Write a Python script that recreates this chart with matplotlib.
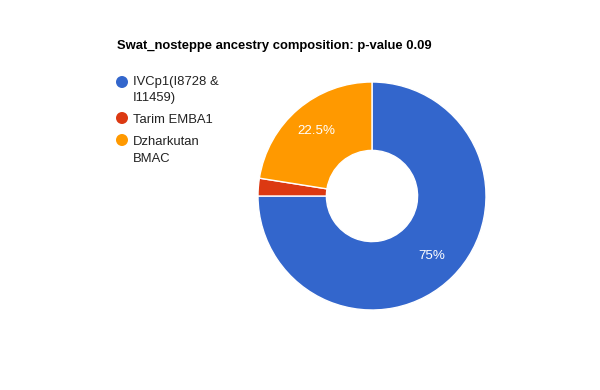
import matplotlib.pyplot as plt
from matplotlib.patches import Ellipse

plt.rcParams['font.family'] = ['Liberation Sans', 'DejaVu Sans']

labels = ['IVCp1(I8728 &\nI11459)', 'Tarim EMBA1', 'Dzharkutan\nBMAC']
values = [75, 2.5, 22.5]
colors = ['#3366cc', '#dc3912', '#ff9900']

W, H = 600, 390
fig = plt.figure(figsize=(6, 3.9), dpi=100)

def fx(x):
    return x / W

def fy(y):
    return 1 - y / H

# donut, centre (372,196) radius 114 px
ax = fig.add_axes([fx(372 - 114), fy(196 + 114), 228 / W, 228 / H])
wedges, texts, autotexts = ax.pie(
    values, colors=colors, startangle=90, counterclock=False,
    radius=1, autopct=lambda p: '%g%%' % round(p, 1) if p > 5 else '',
    pctdistance=0.745,
    wedgeprops=dict(width=0.6, edgecolor='white', linewidth=1))
for t in autotexts:
    t.set_color('white')
    t.set_fontsize(9.6)
ax.set_xlim(-1, 1)
ax.set_ylim(-1, 1)
ax.set_aspect('equal')
ax.axis('off')

fig.text(fx(117), fy(46), 'Swat_nosteppe ancestry composition: p-value 0.09',
         fontsize=9.4, fontweight='bold', va='center', ha='left', color='#000000')

# legend
leg_y = [82, 118, 140]
text_y = [80, 118, 140]
for lab, c, cy, ty in zip(labels, colors, leg_y, text_y):
    fig.patches.append(Ellipse((fx(122), fy(cy)), 12 / W, 12 / H,
                               transform=fig.transFigure,
                               facecolor=c, edgecolor='none'))
    fig.text(fx(133), fy(ty - 4), lab, fontsize=9.4, color='#222222',
             va='top', ha='left', linespacing=1.5)

fig.savefig('out.png', dpi=100, facecolor='white')
